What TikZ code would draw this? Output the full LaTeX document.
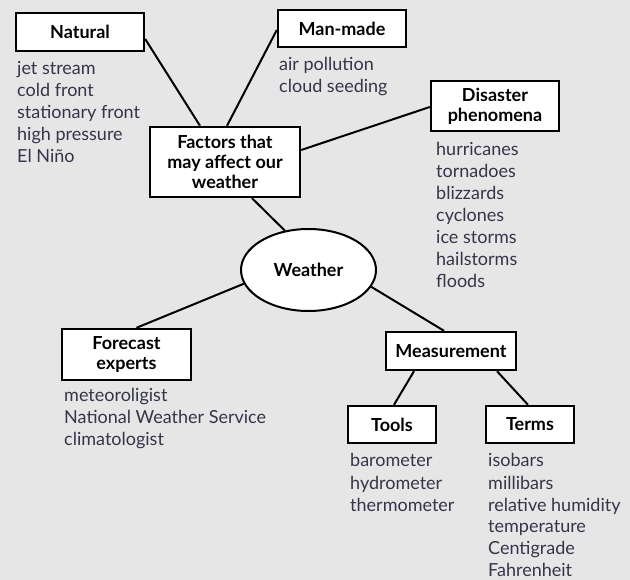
\documentclass[tikz,border=0pt]{standalone}
\usepackage{fontspec}
\setmainfont{Lato}
\usetikzlibrary{shapes.geometric,calc}
\definecolor{bgc}{HTML}{E6E6E6}
\definecolor{itemc}{HTML}{35354A}
\newcommand\itemlist[1]{\vtop{\baselineskip=22pt\lineskiplimit=-10pt\lineskip=0pt #1}}
\tikzset{
  lab/.style={draw=black, line width=2.4pt, fill=white, font=\fontsize{18}{20}\selectfont\bfseries, align=center, inner sep=0pt},
  items/.style={anchor=base west, inner sep=0pt, text=itemc, font=\fontsize{18}{22}\selectfont},
  link/.style={line width=2pt, black}
}
\begin{document}
\begin{tikzpicture}[x=1pt,y=-1pt]
\fill[bgc] (0,0) rectangle (630,580);
\useasboundingbox (0,0) rectangle (630,580);

\node[lab, minimum width=128pt, minimum height=38pt] (nat) at (80,32) {Natural};
\node[lab, minimum width=128pt, minimum height=37pt] (man) at (342,28.5) {Man-made};
\node[lab, minimum width=150pt, minimum height=70pt] (fac) at (225,162) {Factors that\\may affect our\\weather};
\node[lab, minimum width=128pt, minimum height=50pt] (dis) at (495,106) {Disaster\\phenomena};
\node[lab, ellipse, minimum width=135pt, minimum height=82pt, line width=2pt] (wea) at (308.5,270) {Weather};
\node[lab, minimum width=129pt, minimum height=51pt] (fore) at (126.5,354.5) {Forecast\\experts};
\node[lab, minimum width=130pt, minimum height=38pt] (meas) at (451,351) {Measurement};
\node[lab, minimum width=88pt, minimum height=37pt] (tool) at (392,424.5) {Tools};
\node[lab, minimum width=88pt, minimum height=37pt] (term) at (530,424.5) {Terms};

\draw[link] ($(nat.east)+(0,7)$) -- ($(fac.north)+(-25,0)$);
\draw[link] ($(man.west)+(0,1.5)$) -- ($(fac.north)+(2,0)$);
\draw[link] ($(fac.east)+(0,-12)$) -- ($(dis.west)+(0,1)$);
\draw[link] ($(fac.south)+(27,0)$) -- (wea.121);
\draw[link] (wea.192) -- ($(fore.north)+(10,0)$);
\draw[link] (wea.345) -- ($(meas.north)+(-7,0)$);
\draw[link] ($(meas.south)+(-37,0)$) -- ($(tool.north)+(2,0)$);
\draw[link] ($(meas.south)+(46,0)$) -- ($(term.north)+(-2,0)$);

\node[items] (natl) at (17,75) {\itemlist{\hbox{jet stream}\hbox{cold front}\hbox{stationary front}\hbox{high pressure}\hbox{El Niño}}};
\node[items] (manl) at (279,71) {\itemlist{\hbox{air pollution}\hbox{cloud seeding}}};
\node[items] (disl) at (436,156) {\itemlist{\hbox{hurricanes}\hbox{tornadoes}\hbox{blizzards}\hbox{cyclones}\hbox{ice storms}\hbox{hailstorms}\hbox{floods}}};
\node[items] (forl) at (64,402) {\itemlist{\hbox{meteoroligist}\hbox{National Weather Service}\hbox{climatologist}}};
\node[items] (tooll) at (350,467) {\itemlist{\hbox{barometer}\hbox{hydrometer}\hbox{thermometer}}};
\node[items] (terml) at (488,467) {\itemlist{\hbox{isobars}\hbox{millibars}\hbox{relative humidity}\hbox{temperature}\hbox{Centigrade}\hbox{Fahrenheit}}};
\end{tikzpicture}
\end{document}
